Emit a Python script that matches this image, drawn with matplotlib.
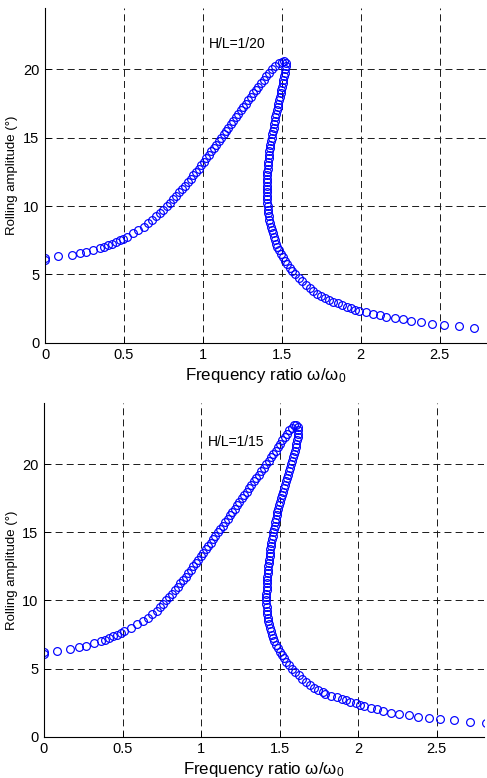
import numpy as np
import matplotlib.pyplot as plt

plt.rcParams['font.family'] = ['Liberation Sans', 'DejaVu Sans']
plt.rcParams['mathtext.fontset'] = 'custom'
plt.rcParams['mathtext.rm'] = 'Liberation Sans'
plt.rcParams['mathtext.default'] = 'regular'
plt.rcParams['lines.scale_dashes'] = False

# ---- H/L = 1/20 : (amplitude, frequency ratio) ----
amp_20 = [6.05, 6.2, 6.34, 6.39, 6.54, 6.66, 6.78, 6.9, 7.0, 7.12, 7.25, 7.37, 7.5, 7.62, 7.75, 8.0, 8.25, 8.5, 8.75,
          9.0, 9.25, 9.5, 9.75, 10.0, 10.25, 10.5, 10.75, 11.0, 11.25, 11.5, 11.75, 12.0, 12.25, 12.5,
          12.75, 13.0, 13.25, 13.5, 13.75, 14.0, 14.25, 14.5, 14.75, 15.0, 15.25, 15.5, 15.75, 16.0,
          16.25, 16.5, 16.75, 17.0, 17.25, 17.5, 17.75, 18.0, 18.25, 18.5, 18.75, 19.0, 19.25, 19.5,
          19.75, 20.0, 20.25, 20.45, 20.55, 20.6,
          20.5, 20.25, 20.0, 19.75, 19.5, 19.25, 19.0, 18.75, 18.5, 18.25, 18.0, 17.75, 17.5, 17.25,
          17.0, 16.75, 16.5, 16.25, 16.0, 15.75, 15.5, 15.25, 15.0, 14.75, 14.5, 14.25, 14.0, 13.75,
          13.5, 13.25, 13.0, 12.75, 12.5, 12.25, 12.0, 11.75, 11.5, 11.25, 11.0, 10.75, 10.5, 10.25,
          10.0, 9.75, 9.5, 9.25, 9.0, 8.75, 8.5, 8.25, 8.0, 7.75, 7.5, 7.25, 7.0, 6.75, 6.5, 6.25,
          6.0, 5.75, 5.5, 5.25, 5.0, 4.75, 4.5, 4.25, 4.0, 3.8, 3.6, 3.45, 3.3, 3.15, 3.0, 2.88, 2.75,
          2.63, 2.52, 2.43, 2.34, 2.24, 2.1, 2.0, 1.9, 1.78, 1.71, 1.59, 1.49, 1.37, 1.3, 1.24, 1.1]
freq_20 = [0.0, 0.0, 0.084, 0.169, 0.22, 0.26, 0.306, 0.348, 0.375, 0.40, 0.425, 0.45, 0.475, 0.497, 0.518, 0.557, 0.592, 0.624, 0.653,
           0.680, 0.704, 0.727, 0.749, 0.771, 0.792, 0.812, 0.832, 0.851, 0.870, 0.888, 0.906, 0.923, 0.940, 0.957,
           0.973, 0.989, 1.005, 1.021, 1.037, 1.053, 1.069, 1.085, 1.100, 1.116, 1.131, 1.147, 1.162, 1.178,
           1.193, 1.209, 1.224, 1.240, 1.255, 1.271, 1.287, 1.303, 1.319, 1.335, 1.351, 1.368, 1.385, 1.402,
           1.420, 1.438, 1.458, 1.480, 1.500, 1.515,
           1.527, 1.525, 1.522, 1.518, 1.514, 1.510, 1.505, 1.501, 1.496, 1.492, 1.487, 1.483, 1.478, 1.474,
           1.469, 1.465, 1.460, 1.456, 1.452, 1.448, 1.444, 1.440, 1.436, 1.432, 1.428, 1.425, 1.422, 1.419,
           1.416, 1.414, 1.412, 1.410, 1.408, 1.407, 1.406, 1.405, 1.405, 1.405, 1.405, 1.406, 1.407, 1.408,
           1.410, 1.412, 1.415, 1.418, 1.422, 1.426, 1.431, 1.436, 1.442, 1.448, 1.455, 1.463, 1.472, 1.482, 1.493, 1.505,
           1.519, 1.534, 1.550, 1.567, 1.586, 1.606, 1.628, 1.652, 1.678, 1.70, 1.725, 1.75, 1.775, 1.80, 1.825, 1.855, 1.88,
           1.91, 1.94, 1.965, 1.99, 2.035, 2.08, 2.12, 2.16, 2.215, 2.27, 2.32, 2.385, 2.45, 2.53, 2.62, 2.72]

# ---- H/L = 1/15 ----
amp_15 = [6.05, 6.2, 6.31, 6.42, 6.56, 6.68, 6.86, 7.0, 7.12, 7.25, 7.37, 7.5, 7.62, 7.75, 8.0, 8.25, 8.5, 8.75,
          9.0, 9.25, 9.5, 9.75, 10.0, 10.25, 10.5, 10.75, 11.0, 11.25, 11.5, 11.75, 12.0, 12.25, 12.5,
          12.75, 13.0, 13.25, 13.5, 13.75, 14.0, 14.25, 14.5, 14.75, 15.0, 15.25, 15.5, 15.75, 16.0,
          16.25, 16.5, 16.75, 17.0, 17.25, 17.5, 17.75, 18.0, 18.25, 18.5, 18.75, 19.0, 19.25, 19.5,
          19.75, 20.0, 20.25, 20.5, 20.75, 21.0, 21.25, 21.5, 21.75, 22.0, 22.25, 22.5, 22.7, 22.85, 22.9,
          22.75, 22.5, 22.25, 22.0, 21.75, 21.5, 21.25, 21.0, 20.75, 20.5, 20.25, 20.0, 19.75, 19.5,
          19.25, 19.0, 18.75, 18.5, 18.25, 18.0, 17.75, 17.5, 17.25, 17.0, 16.75, 16.5, 16.25, 16.0,
          15.75, 15.5, 15.25, 15.0, 14.75, 14.5, 14.25, 14.0, 13.75, 13.5, 13.25, 13.0, 12.75, 12.5,
          12.25, 12.0, 11.75, 11.5, 11.25, 11.0, 10.75, 10.5, 10.25, 10.0, 9.75, 9.5, 9.25, 9.0, 8.75,
          8.5, 8.25, 8.0, 7.75, 7.5, 7.25, 7.0, 6.75, 6.5, 6.25, 6.0, 5.75, 5.5, 5.25, 5.0, 4.75, 4.5,
          4.25, 4.0, 3.8, 3.6, 3.45, 3.3, 3.15, 3.0, 2.89, 2.76, 2.66, 2.57, 2.45, 2.35, 2.25, 2.13, 2.03,
          1.89, 1.76, 1.67, 1.56, 1.48, 1.38, 1.3, 1.23, 1.1, 0.98]
freq_15 = [0.0, 0.0, 0.085, 0.166, 0.225, 0.27, 0.32, 0.365, 0.39, 0.415, 0.44, 0.465, 0.488, 0.51, 0.553, 0.592, 0.628, 0.661,
           0.690, 0.716, 0.739, 0.760, 0.779, 0.797, 0.815, 0.833, 0.851, 0.868, 0.885, 0.901, 0.917, 0.933, 0.949,
           0.965, 0.981, 0.997, 1.013, 1.029, 1.045, 1.061, 1.076, 1.091, 1.107, 1.122, 1.138, 1.153, 1.169,
           1.184, 1.199, 1.214, 1.229, 1.244, 1.259, 1.274, 1.289, 1.304, 1.319, 1.334, 1.350, 1.366, 1.382,
           1.398, 1.414, 1.429, 1.444, 1.459, 1.474, 1.489, 1.503, 1.517, 1.531, 1.545, 1.560, 1.575, 1.592, 1.605,
           1.615, 1.617, 1.616, 1.614, 1.610, 1.606, 1.601, 1.596, 1.591, 1.585, 1.579, 1.573, 1.567, 1.561,
           1.555, 1.548, 1.541, 1.535, 1.528, 1.522, 1.515, 1.509, 1.502, 1.496, 1.490, 1.485, 1.480, 1.475,
           1.471, 1.467, 1.463, 1.459, 1.455, 1.451, 1.447, 1.444, 1.441, 1.438, 1.435, 1.432, 1.429, 1.427,
           1.425, 1.423, 1.421, 1.419, 1.418, 1.417, 1.416, 1.415, 1.415, 1.415, 1.415, 1.416, 1.418, 1.420, 1.423,
           1.427, 1.432, 1.437, 1.443, 1.450, 1.458, 1.466, 1.476, 1.487, 1.499, 1.512, 1.526, 1.542, 1.560, 1.578, 1.598, 1.620,
           1.643, 1.667, 1.69, 1.72, 1.745, 1.775, 1.79, 1.825, 1.864, 1.895, 1.92, 1.95, 1.985, 2.01, 2.035, 2.08, 2.12,
           2.16, 2.21, 2.26, 2.32, 2.38, 2.45, 2.52, 2.61, 2.71, 2.81]

labels = ['H/L=1/20', 'H/L=1/15']
xticks = [0, 0.5, 1, 1.5, 2, 2.5]
yticks = [0, 5, 10, 15, 20]

fig = plt.figure(figsize=(4.87, 7.78), dpi=100)
W, H = 487, 778
# axes boxes in pixels: left, top, right, bottom
boxes = [(45, 8, 487, 342.7), (44, 403, 484, 736.7)]
data = [(freq_20, amp_20), (freq_15, amp_15)]
label_pos = [(1.04, 21.9), (1.045, 21.66)]

for i in range(2):
    l, t, r, b = boxes[i]
    ax = fig.add_axes([l / W, 1 - b / H, (r - l) / W, (b - t) / H])
    x, y = data[i]
    ax.plot(x, y, 'o', mfc='none', mec='#0000ff', ms=5.6, mew=0.85)
    ax.set_xlim(0, 2.8)
    ax.set_ylim(0, 24.5)
    ax.set_xticks(xticks)
    ax.set_xticklabels(['0', '0.5', '1', '1.5', '2', '2.5'])
    ax.set_yticks(yticks)
    ax.grid(True, color='0.1', linestyle=(0, (5, 3)), linewidth=0.7)
    ax.spines['top'].set_visible(False)
    ax.spines['right'].set_visible(False)
    for s in ['left', 'bottom']:
        ax.spines[s].set_linewidth(0.8)
    ax.tick_params(direction='in', length=4, width=0.7, labelsize=10.5, pad=4)
    ax.text(label_pos[i][0], label_pos[i][1], labels[i], fontsize=10, va='center', ha='left')
    ax.set_xlabel('Frequency ratio ω/ω$_0$', fontsize=12.2, labelpad=3)
    ax.set_ylabel('Rolling amplitude (°)', fontsize=9.5)
    # keep the label in the narrow strip left of the tick labels
    ax.yaxis.set_label_coords((18 - l) / (r - l), 0.5)

plt.savefig('out.png', dpi=100)
